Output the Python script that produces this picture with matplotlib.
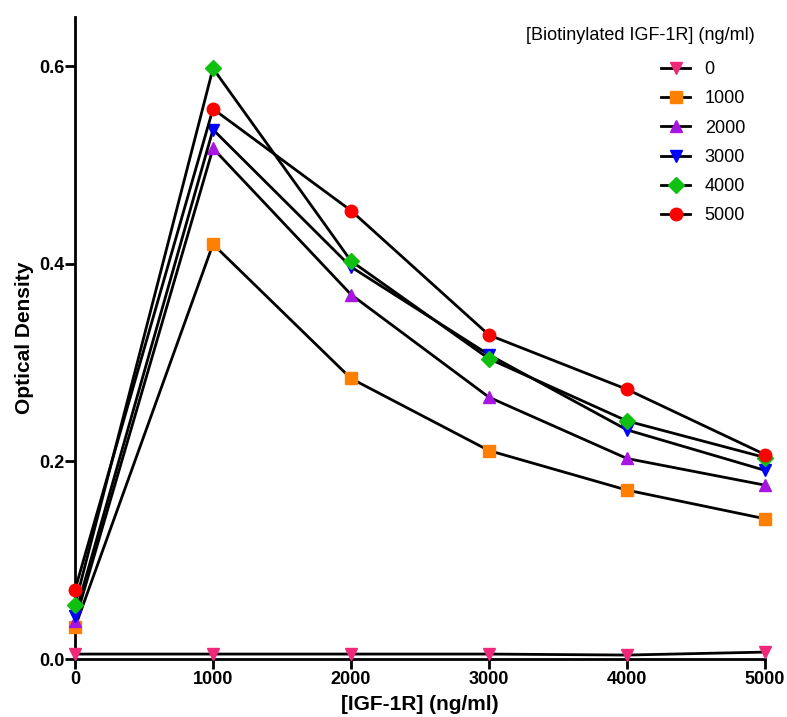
import matplotlib

matplotlib.use("Agg")

import matplotlib.pyplot as plt  # noqa: E402
from matplotlib.lines import Line2D  # noqa: E402

plt.rcParams.update(
    {
        "font.family": ["Liberation Sans", "DejaVu Sans"],
        "font.size": 13,
        "axes.spines.top": False,
        "axes.spines.right": False,
        "figure.facecolor": "white",
        "axes.facecolor": "white",
    }
)

# x: [IGF-1R] (ng/ml)
igf1r = [0, 1000, 2000, 3000, 4000, 5000]
series_labels = ["0", "1000", "2000", "3000", "4000", "5000"]

od_0 = [0.005, 0.005, 0.005, 0.005, 0.004, 0.007]
od_1000 = [0.032, 0.420, 0.284, 0.211, 0.171, 0.142]
od_2000 = [0.038, 0.517, 0.369, 0.265, 0.203, 0.176]
od_3000 = [0.044, 0.536, 0.397, 0.308, 0.232, 0.191]
od_4000 = [0.055, 0.598, 0.403, 0.304, 0.241, 0.204]
od_5000 = [0.070, 0.557, 0.454, 0.328, 0.273, 0.207]

series = [od_0, od_1000, od_2000, od_3000, od_4000, od_5000]
markers = ["v", "s", "^", "v", "D", "o"]
colors = ["#f0287a", "#ff8000", "#a616e0", "#0000ff", "#10c010", "#ff0000"]
sizes = [9, 9, 9, 9, 8, 9]

W, H = 787, 717
fig = plt.figure(figsize=(W / 100, H / 100), dpi=100)
ax = fig.add_axes([75 / W, 1 - 659 / H, 690 / W, 642 / H])

for vals, m, c, s, lab in zip(series, markers, colors, sizes, series_labels):
    ax.plot(igf1r, vals, color="black", lw=2, marker=m, ms=s,
            markerfacecolor=c, markeredgecolor=c, label=lab, clip_on=False, zorder=3)

ax.set_xlim(0, 5000)
ax.set_ylim(0, 0.65)
ax.set_xticks(igf1r)
ax.set_yticks([0.0, 0.2, 0.4, 0.6])
ax.set_yticklabels(["0.0", "0.2", "0.4", "0.6"])
for sp in ("left", "bottom"):
    ax.spines[sp].set_linewidth(2)
ax.tick_params(width=2, length=7, direction="out", labelsize=13)
ax.tick_params(axis="x", pad=2)
ax.tick_params(axis="y", pad=0.5)
for t in ax.get_xticklabels() + ax.get_yticklabels():
    t.set_fontweight("bold")

ax.set_xlabel("[IGF-1R] (ng/ml)", fontsize=15, fontweight="bold", labelpad=5)
ax.set_ylabel("Optical Density", fontsize=15, fontweight="bold", labelpad=4)

# legend title drawn separately so the entries can sit left of its right edge
fig.text(755 / W, 1 - 36 / H, "[Biotinylated IGF-1R] (ng/ml)", fontsize=13,
         ha="right", va="center")

handles = [
    Line2D([], [], color="black", lw=2, marker=m, ms=s, markerfacecolor=c, markeredgecolor=c)
    for m, c, s in zip(markers, colors, sizes)
]
ax.legend(handles, series_labels, frameon=False, loc="upper right",
          bbox_to_anchor=(745 / W, 1 - 61 / H), bbox_transform=fig.transFigure,
          borderaxespad=0, borderpad=0, handlelength=1.6, handletextpad=0.8,
          labelspacing=0.68, fontsize=13)

fig.savefig("out.png", dpi=100)
